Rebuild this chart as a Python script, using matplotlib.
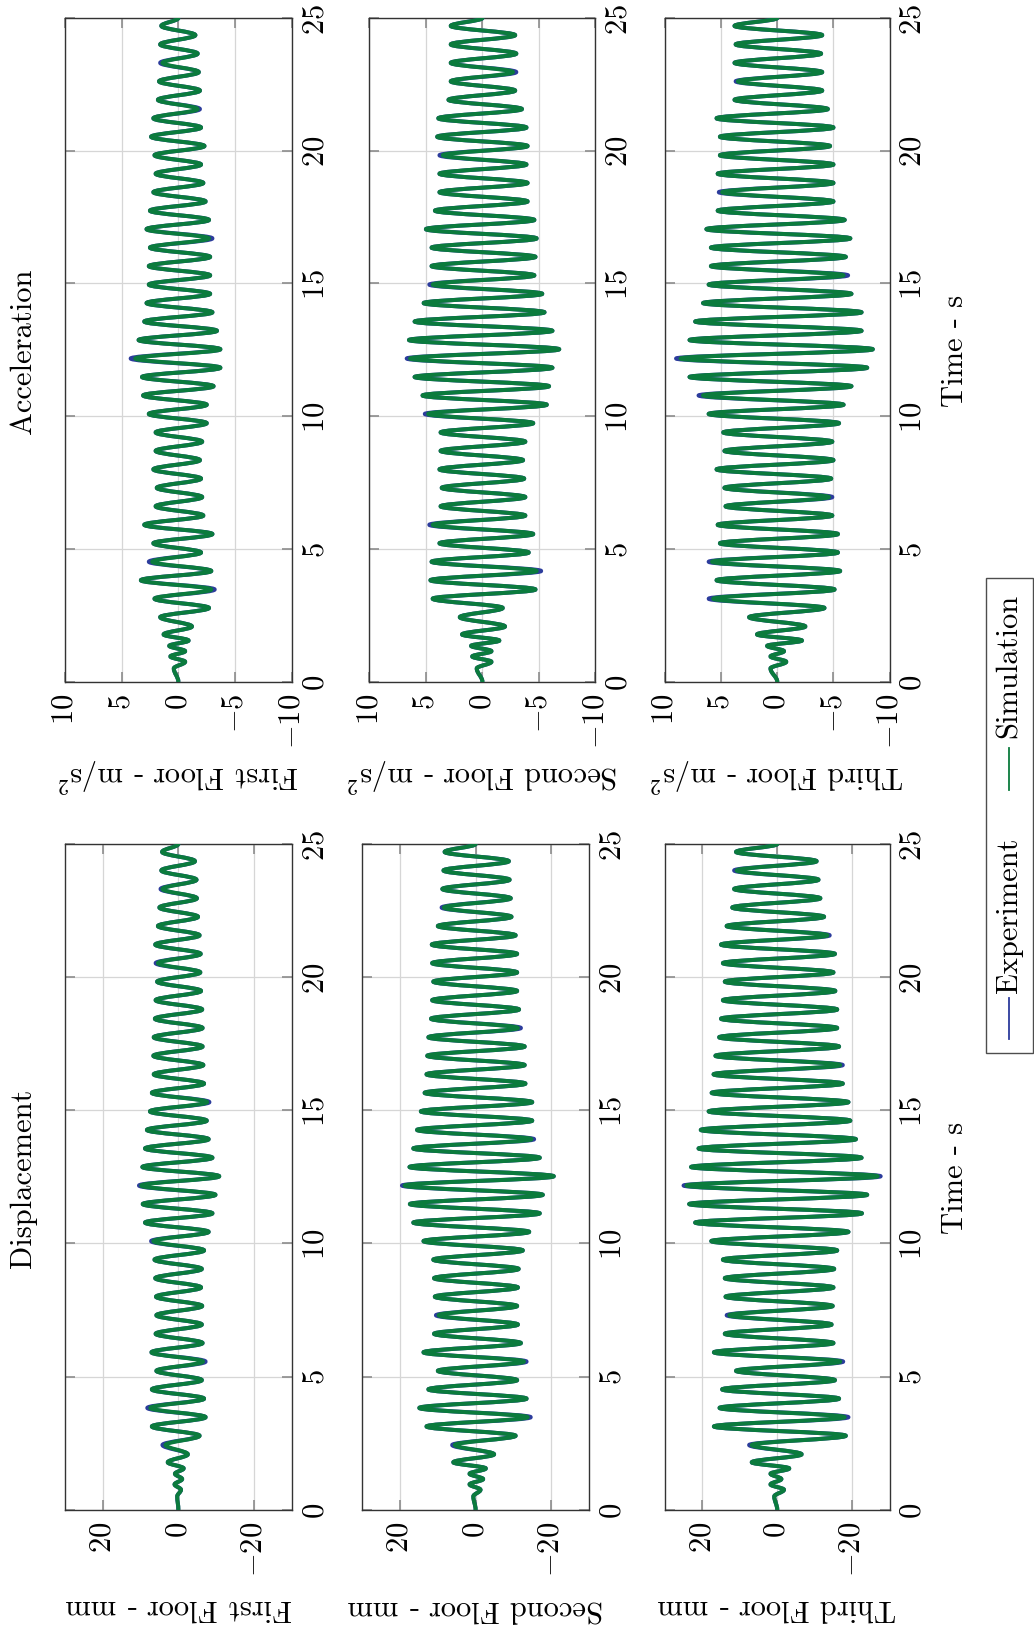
import numpy as np
import matplotlib
matplotlib.use("Agg")
import matplotlib.pyplot as plt
from matplotlib.patches import Rectangle, PathPatch
from matplotlib.lines import Line2D
from matplotlib.path import Path

plt.rcParams['font.family'] = 'serif'
plt.rcParams['font.serif'] = ['cmr10']
plt.rcParams['mathtext.fontset'] = 'cm'
plt.rcParams['axes.formatter.use_mathtext'] = True
plt.rcParams['axes.unicode_minus'] = True

# ---------------- data ----------------
# time base: irregular start, then extremes every ~0.348 s
early_t = [0.0, 0.5, 0.75, 0.95, 1.15, 1.35, 1.55, 1.78, 2.08]
t_start = 2.43
t_step = 0.348
t_end = 25.0

disp1_early = [0, 0.3, -0.7, 1.0, -1.0, 0.9, -1.4, 2.8, -2.5]
disp1 = [4.2, -5.6, 7.0, -7.2, 8.2, -6.8, 7.0, -6.2, 5.8, -7.2,
         7.1, -6.4, 6.0, -6.2, 5.8, -6.3, 5.9, -6.0, 6.1, -6.2,
         6.3, -6.8, 7.2, -8.0, 8.8, -9.0, 9.4, -9.8, 10.4, -10.8,
         9.5, -9.0, 8.8, -8.0, 8.3, -7.5, 7.5, -8.2, 7.0, -6.8,
         6.5, -6.6, 6.6, -6.4, 6.5, -6.4, 6.2, -6.3, 6.0, -6.0,
         5.6, -5.8, 6.0, -5.9, 6.1, -5.6, 5.4, -5.2, 5.0, -4.9,
         4.7, -4.8, 4.5, -4.4, 4.3]
disp2_early = [0, 0.6, -1.3, 1.6, -2.0, 1.6, -2.7, 5.9, -4.9]
disp2 = [6.2, -10.6, 13.0, -14.6, 14.9, -13.5, 12.5, -11.0, 10.0, -13.5,
         13.8, -12.0, 11.0, -11.2, 10.5, -11.0, 10.8, -11.2, 11.0, -11.4,
         11.2, -12.5, 13.8, -14.2, 16.5, -17.0, 17.4, -17.8, 19.5, -20.7,
         17.5, -17.0, 16.5, -15.5, 15.5, -15.0, 14.5, -15.0, 13.5, -13.2,
         13.0, -13.0, 12.8, -13.0, 12.5, -12.0, 11.8, -11.5, 11.5, -11.0,
         11.2, -11.0, 11.5, -11.0, 11.6, -10.6, 10.0, -9.5, 9.0, -9.3,
         8.8, -9.0, 8.5, -8.8, 8.2]
disp3_early = [0, 0.8, -1.8, 1.8, -1.1, 1.8, -3.2, 6.8, -6.5]
disp3 = [7.5, -18.3, 16.9, -19.0, 15.4, -16.5, 14.7, -15.4, 11.0, -17.6,
         16.9, -15.0, 14.0, -14.5, 13.5, -14.8, 13.8, -15.0, 14.0, -15.2,
         14.5, -16.0, 17.6, -19.0, 21.9, -22.6, 23.5, -24.0, 25.0, -27.6,
         23.0, -22.5, 21.0, -21.0, 20.4, -19.5, 18.3, -19.0, 17.5, -17.5,
         17.0, -17.5, 16.5, -16.5, 15.5, -16.0, 15.0, -16.0, 14.5, -15.5,
         14.0, -15.0, 14.5, -15.4, 15.0, -14.0, 13.5, -12.5, 12.0, -11.5,
         11.5, -11.0, 11.5, -10.5, 11.0]

acc1_early = [0, 0.4, -0.6, 0.7, -0.6, 0.8, -0.9, 1.3, -1.2]
acc1 = [1.6, -2.7, 2.1, -3.2, 3.3, -2.9, 2.6, -2.0, 2.2, -3.0,
        3.0, -2.2, 2.0, -2.1, 1.9, -2.0, 2.2, -1.9, 2.0, -2.1,
        2.0, -2.5, 2.6, -2.5, 3.1, -3.1, 3.2, -3.7, 4.2, -3.7,
        3.5, -3.4, 3.0, -3.0, 2.8, -2.8, 2.6, -2.8, 2.6, -2.8,
        2.5, -3.0, 2.8, -2.7, 2.5, -2.4, 2.2, -2.2, 2.0, -2.0,
        2.1, -2.3, 2.4, -2.0, 2.2, -1.9, 1.8, -1.9, 1.7, -1.8,
        1.6, -1.7, 1.6, -1.5, 1.5]
acc2_early = [0, 0.5, -0.8, 0.9, -0.8, 1.0, -1.5, 1.8, -2.0]
acc2 = [2.0, -1.8, 4.4, -4.7, 4.6, -5.2, 4.5, -4.1, 3.8, -4.5,
        4.7, -3.8, 3.7, -3.8, 3.6, -3.7, 3.8, -3.6, 3.7, -3.8,
        3.7, -4.5, 5.1, -5.7, 5.3, -5.9, 6.0, -6.2, 6.7, -6.8,
        6.5, -6.2, 6.0, -5.5, 5.2, -5.3, 4.7, -4.6, 4.5, -4.7,
        4.5, -4.8, 5.0, -4.6, 4.2, -4.0, 3.8, -4.0, 3.8, -3.9,
        3.8, -4.0, 4.0, -3.9, 3.9, -3.5, 3.0, -2.9, 2.8, -3.0,
        2.8, -3.0, 2.8, -2.9, 2.8]
acc3_early = [0, 0.6, -0.8, 0.6, -0.6, 0.9, -2.2, 1.8, -2.5]
acc3 = [2.5, -4.2, 6.1, -5.1, 5.4, -5.6, 6.1, -5.4, 5.1, -5.4,
        5.3, -4.9, 4.6, -4.9, 4.7, -4.8, 5.4, -5.0, 4.7, -4.9,
        4.8, -5.5, 6.1, -5.9, 7.0, -6.6, 7.8, -8.0, 9.0, -8.5,
        7.8, -7.5, 7.3, -7.5, 6.6, -6.6, 6.1, -6.3, 5.9, -6.1,
        5.9, -6.5, 6.3, -6.0, 5.3, -5.0, 5.2, -5.0, 5.3, -5.0,
        5.1, -4.7, 5.1, -5.0, 5.4, -4.5, 3.8, -4.0, 3.7, -4.0,
        3.8, -3.9, 3.7, -4.0, 3.8]

# simulation differs from experiment only at a few extremes (index: value)
sim_disp1 = {0: 3.4, 4: 7.4, 9: -6.5, 22: 6.6, 28: 9.8, 37: -7.6, 52: 5.4, 60: 4.2}
sim_disp2 = {0: 5.5, 3: -13.8, 9: -12.8, 14: 9.8, 28: 18.8, 33: -14.8, 45: -11.2, 58: 8.4}
sim_disp3 = {0: 6.8, 3: -18.0, 9: -16.8, 14: 12.8, 28: 24.2, 29: -26.8, 41: -16.8, 55: -13.4, 62: 10.8}
sim_acc1 = {3: -2.9, 6: 2.3, 28: 3.8, 41: -2.7, 55: -1.7, 60: 1.4}
sim_acc2 = {5: -4.8, 10: 4.4, 22: 4.8, 28: 6.4, 36: 4.4, 50: 3.5, 59: -2.7}
sim_acc3 = {2: 5.7, 6: 5.8, 13: -4.6, 24: 6.6, 28: 8.6, 37: -5.9, 46: 4.9, 58: 3.5}

floor_names = ["First Floor", "Second Floor", "Third Floor"]
disp_unit = "mm"
acc_unit = "m/s$^2$"
disp_ticks = [20, 0, -20]
acc_ticks = [10, 5, 0, -5, -10]
time_ticks = [0, 5, 10, 15, 20, 25]
legend_labels = ["Experiment", "Simulation"]

# ---------------- style ----------------
W, H = 1034, 1631
FS = 22
BLUE = '#2c3c9c'
GREEN = '#0b7b3d'
LW = 2.9


def series(early, grid, overrides=None):
    g = list(grid)
    if overrides:
        for k, v in overrides.items():
            g[k] = v
    times = list(early_t) + [t_start + t_step * k for k in range(len(g))] + [t_end]
    vals = list(early) + g + [0.0]
    return np.array(times), np.array(vals)


def smooth_path(t, v, c=0.36):
    """Smooth line through the extremes (vertical tangent at each extreme)."""
    verts = [(v[0], t[0])]
    codes = [Path.MOVETO]
    for i in range(len(t) - 1):
        h = t[i + 1] - t[i]
        verts += [(v[i], t[i] + c * h), (v[i + 1], t[i + 1] - c * h), (v[i + 1], t[i + 1])]
        codes += [Path.CURVE4] * 3
    return Path(verts, codes)


def rect(x0, x1, y0, y1):
    return [x0 / W, 1 - y1 / H, (x1 - x0) / W, (y1 - y0) / H]


fig = plt.figure(figsize=(W / 100, H / 100), dpi=100)

acc_cols = [(64.8, 291.9), (369.4, 595.4), (664.8, 889.7)]
disp_cols = [(64.8, 291.9), (362.3, 588.9), (664.8, 889.7)]
acc_rows = (19.0, 682.7)
disp_rows = (845.0, 1510.7)

panels = [
    ("disp", disp_cols[0], disp_rows, disp1_early, disp1, sim_disp1, 0),
    ("disp", disp_cols[1], disp_rows, disp2_early, disp2, sim_disp2, 1),
    ("disp", disp_cols[2], disp_rows, disp3_early, disp3, sim_disp3, 2),
    ("acc", acc_cols[0], acc_rows, acc1_early, acc1, sim_acc1, 0),
    ("acc", acc_cols[1], acc_rows, acc2_early, acc2, sim_acc2, 1),
    ("acc", acc_cols[2], acc_rows, acc3_early, acc3, sim_acc3, 2),
]

for kind, (x0, x1), (y0, y1), early, grid, sim_over, fi in panels:
    ax = fig.add_axes(rect(x0, x1, y0, y1))
    te, ve = series(early, grid)
    ts, vs = series(early, grid, sim_over)
    ax.add_patch(PathPatch(smooth_path(te, ve), fill=False, edgecolor=BLUE, lw=LW,
                           joinstyle='round', capstyle='round', zorder=3))
    ax.add_patch(PathPatch(smooth_path(ts, vs), fill=False, edgecolor=GREEN, lw=LW,
                           joinstyle='round', capstyle='round', zorder=4))
    if kind == "disp":
        ax.set_xlim(30, -30)
        ax.set_xticks(disp_ticks)
        unit = disp_unit
    else:
        ax.set_xlim(10, -10)
        ax.set_xticks(acc_ticks)
        unit = acc_unit
    ax.set_ylim(0, 25)
    ax.set_yticks(time_ticks)
    ax.yaxis.tick_right()
    ax.set_axisbelow(True)
    ax.grid(True, color='#d6d6d6', lw=0.9)
    ax.tick_params(axis='both', direction='in', length=7, width=1.2, color='0.55',
                   labelsize=FS, top=True, bottom=True, left=True, right=True,
                   labelleft=False, labelright=True, labeltop=False, labelbottom=True)
    ax.tick_params(axis='x', labelrotation=90, pad=8)
    ax.tick_params(axis='y', labelrotation=90, pad=7)
    for lab in ax.get_yticklabels():
        lab.set_va('center')
    for sp in ax.spines.values():
        sp.set_color('0.2')
        sp.set_linewidth(1.0)
    # floor label (appears upside-down in the rotated layout)
    yl = 1608 if kind == "disp" else 775
    fig.text((x0 + x1) / 2 / W, 1 - yl / H, f"{floor_names[fi]} - {unit}",
             rotation=180, ha='center', va='center', fontsize=FS)

# titles and time labels
fig.text(23 / W, 1 - 1178 / H, "Displacement", rotation=90, ha='center', va='center', fontsize=FS)
fig.text(23 / W, 1 - 351 / H, "Acceleration", rotation=90, ha='center', va='center', fontsize=FS)
fig.text(955 / W, 1 - 1178 / H, "Time - s", rotation=90, ha='center', va='center', fontsize=FS)
fig.text(955 / W, 1 - 351 / H, "Time - s", rotation=90, ha='center', va='center', fontsize=FS)

# legend (rotated, drawn by hand)
fig.patches.append(Rectangle((986 / W, 1 - 1054 / H), 47 / W, 475 / H, transform=fig.transFigure,
                             fill=False, edgecolor='0.3', lw=1.0))
fig.lines.append(Line2D([1009 / W, 1009 / W], [1 - 1040 / H, 1 - 999 / H], transform=fig.transFigure,
                        color=BLUE, lw=1.3))
fig.text(1009 / W, 1 - 915 / H, legend_labels[0], rotation=90, ha='center', va='center', fontsize=FS)
fig.lines.append(Line2D([1009 / W, 1009 / W], [1 - 791 / H, 1 - 749 / H], transform=fig.transFigure,
                        color=GREEN, lw=1.3))
fig.text(1009 / W, 1 - 666 / H, legend_labels[1], rotation=90, ha='center', va='center', fontsize=FS)

fig.savefig("out.png", dpi=100)
